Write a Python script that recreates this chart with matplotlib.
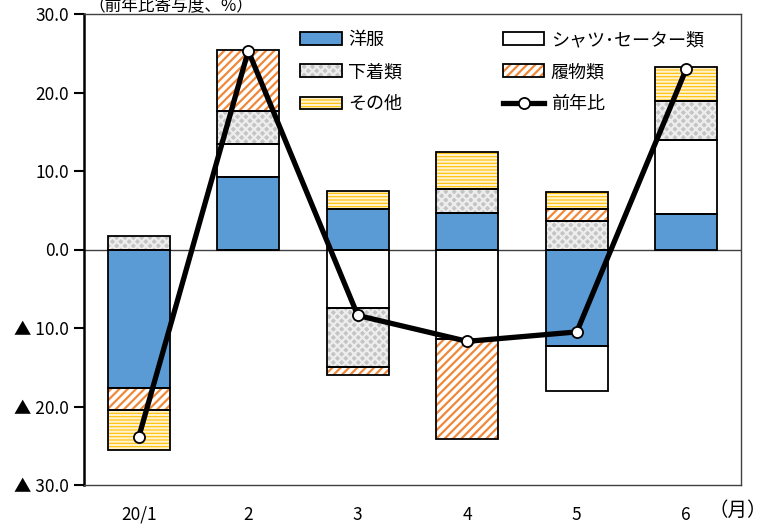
import matplotlib.pyplot as plt
import numpy as np
from matplotlib.patches import Patch
from matplotlib.lines import Line2D
from matplotlib.legend_handler import HandlerTuple

plt.rcParams['font.family'] = ['Noto Sans CJK JP', 'DejaVu Sans']
plt.rcParams['hatch.linewidth'] = 1.6

months = ['20/1', '2', '3', '4', '5', '6']
# 前年比寄与度（%）
clothes = [-17.6, 9.2, 5.2, 4.6, -12.3, 4.5]
shirts = [0.0, 4.3, -7.4, -11.4, -5.7, 9.5]
underwear = [1.7, 4.1, -7.6, 3.1, 3.6, 4.9]
footwear = [-2.9, 7.8, -1.0, -12.8, 1.5, 0.0]
others = [-5.1, -0.1, 2.3, 4.7, 2.2, 4.3]
yoy = [-23.9, 25.3, -8.4, -11.7, -10.5, 23.0]

yticks = [-30, -20, -10, 0, 10, 20, 30]
ytick_labels = ['▲ 30.0', '▲ 20.0', '▲ 10.0', '0.0', '10.0', '20.0', '30.0']

# name, values, face colour, hatch colour, hatch
series = [
    ('洋服', clothes, '#5B9BD5', '#5B9BD5', None),
    ('シャツ･セーター類', shirts, 'white', 'white', None),
    ('下着類', underwear, '#C4C4C4', '#EDEDED', 'xxxx'),
    ('履物類', footwear, 'white', '#F0883A', '////'),
    ('その他', others, '#FFC000', '#FFF2CC', '-----'),
]

fig = plt.figure(figsize=(7.67, 5.24), dpi=100)
ax = fig.add_axes([84 / 767, 39 / 524, 657 / 767, 471 / 524])

x = np.arange(len(months))
w = 0.57
pos = np.zeros(len(months))
neg = np.zeros(len(months))
handles = []
for name, vals, fc, hc, hatch in series:
    vals = np.array(vals)
    bottoms = np.where(vals >= 0, pos, neg)
    keep = vals != 0
    ax.bar(x[keep], vals[keep], w, bottom=bottoms[keep], color=fc, hatch=hatch,
           edgecolor=hc, linewidth=0, zorder=2)
    ax.bar(x[keep], vals[keep], w, bottom=bottoms[keep], fill=False,
           edgecolor='black', linewidth=1.3, zorder=3)
    pos += np.where(vals >= 0, vals, 0)
    neg += np.where(vals < 0, vals, 0)
    handles.append((Patch(facecolor=fc, hatch=hatch, edgecolor=hc, linewidth=0),
                    Patch(fill=False, edgecolor='black', linewidth=1.3)))

ax.axhline(0, color='#404040', linewidth=1, zorder=1)
ax.plot(x, yoy, color='black', linewidth=3.8, marker='o', markersize=8,
        markerfacecolor='white', markeredgecolor='black', markeredgewidth=1.3, zorder=4)
handles.append(Line2D([], [], color='black', linewidth=3.8, marker='o', markersize=8,
                      markerfacecolor='white', markeredgecolor='black', markeredgewidth=1.3))

labels = [s[0] for s in series] + ['前年比']
# legend fills column by column: left column 洋服/下着類/その他
order = [0, 2, 4, 1, 3, 5]
ax.legend([handles[i] for i in order], [labels[i] for i in order], ncol=2,
          loc='upper left', bbox_to_anchor=((300 - 84) / 657, (485 - 31) / 471),
          frameon=False, fontsize=13, handlelength=2.3, handleheight=0.7,
          handletextpad=0.35, columnspacing=5.6, labelspacing=0.78,
          borderpad=0, borderaxespad=0,
          handler_map={tuple: HandlerTuple(ndivide=1)})

ax.set_xlim(-0.5, len(months) - 0.5)
ax.set_ylim(-30, 30)
ax.set_xticks(x)
ax.set_xticklabels(months, fontsize=12.5)
ax.set_yticks(yticks)
ax.set_yticklabels(ytick_labels, fontsize=12.5)
ax.tick_params(axis='x', length=0, pad=15)
ax.tick_params(axis='y', direction='out', length=7, width=1.5, pad=4)

for side in ['top', 'right', 'bottom']:
    ax.spines[side].set_color('#404040')
    ax.spines[side].set_linewidth(1)
ax.spines['left'].set_color('black')
ax.spines['left'].set_linewidth(1.8)

fig.text(88 / 767, 1 - 7 / 524, '（前年比寄与度、%）', fontsize=12, ha='left', va='center')
fig.text(767 / 767, 1 - 510 / 524, '（月）', fontsize=14, ha='right', va='center')

fig.savefig('out.png', dpi=100)
